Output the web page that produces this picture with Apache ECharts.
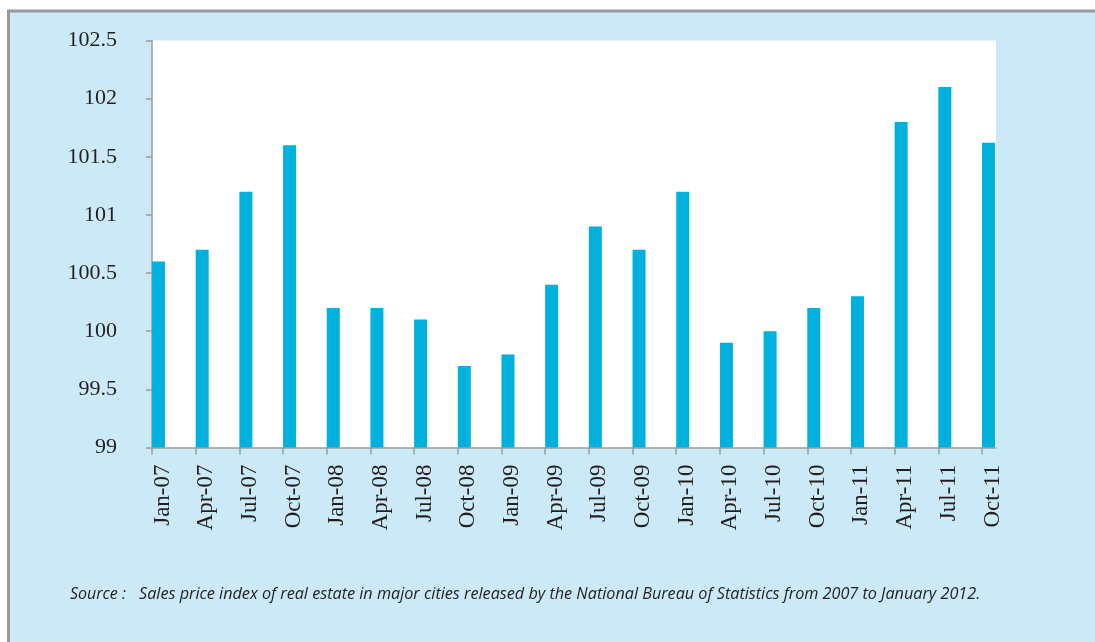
<!DOCTYPE html>
<html lang="en">
<head>
  <meta charset="UTF-8">
  <title>Sales price index</title>
  <script src="https://cdn.jsdelivr.net/npm/echarts@6/dist/echarts.min.js"></script>
  <style>
    html, body { margin: 0; padding: 0; background: #fff; }
    #myCharts { width: 1095px; height: 642px; }
  </style>
</head>
<body>
  <div id="myCharts"></div>
  <script>
    // categories and values
    var months = ['Jan-07', 'Apr-07', 'Jul-07', 'Oct-07', 'Jan-08', 'Apr-08', 'Jul-08', 'Oct-08',
      'Jan-09', 'Apr-09', 'Jul-09', 'Oct-09', 'Jan-10', 'Apr-10', 'Jul-10', 'Oct-10',
      'Jan-11', 'Apr-11', 'Jul-11', 'Oct-11'];
    var priceIndex = [100.6, 100.7, 101.2, 101.6, 100.2, 100.2, 100.1, 99.7,
      99.8, 100.4, 100.9, 100.7, 101.2, 99.9, 100.0, 100.2,
      100.3, 101.8, 102.1, 101.62];
    var yTicks = [99, 99.5, 100, 100.5, 101, 101.5, 102, 102.5];
    var sourceLabel = 'Source :';
    var sourceText = 'Sales price index of real estate in major cities released by the National Bureau of Statistics from 2007 to January 2012.';

    var idx = months.map(function (m, i) { return i; });
    // labels sit a little right of the tick, over the bar
    var labelPos = idx.map(function (i) { return i + 0.24; });
    var barData = priceIndex.map(function (v, i) { return [i, v]; });

    var myChart = echarts.init(document.getElementById('myCharts'));
    var axisGray = '#9d9d9d';
    var textColor = '#231f20';
    var serif = '"Liberation Serif", "Times New Roman", serif';

    var option = {
      animation: false,
      backgroundColor: '#fff',
      graphic: [
        {
          type: 'rect',
          z: -10,
          shape: { x: 8.5, y: 11, width: 1100, height: 640 },
          style: { fill: '#cbe9f6', stroke: '#999999', lineWidth: 3 }
        },
        {
          type: 'text',
          left: 70,
          top: 586,
          style: { text: sourceLabel, font: 'italic 16px "Open Sans"', fill: textColor }
        },
        {
          type: 'text',
          left: 139,
          top: 586,
          style: { text: sourceText, font: 'italic 16.2px "Open Sans"', fill: textColor }
        }
      ],
      grid: {
        left: 152,
        right: 99,
        top: 40.5,
        bottom: 194.5,
        show: true,
        backgroundColor: '#fff',
        borderWidth: 0
      },
      xAxis: {
        type: 'value',
        min: 0,
        max: 19.32,
        interval: 1,
        splitLine: { show: false },
        axisLine: { show: true, lineStyle: { color: axisGray, width: 1.5 } },
        axisTick: { show: true, customValues: idx, length: 7, lineStyle: { color: axisGray, width: 1.5 } },
        axisLabel: {
          customValues: labelPos,
          rotate: 90,
          margin: 17,
          fontFamily: serif,
          fontSize: 23,
          color: textColor,
          formatter: function (v) { return months[Math.round(v)] || ''; }
        }
      },
      yAxis: {
        type: 'value',
        min: yTicks[0],
        max: yTicks[yTicks.length - 1],
        interval: 0.5,
        splitLine: { show: false },
        axisLine: { show: true, lineStyle: { color: axisGray, width: 1.5 } },
        axisTick: { show: true, inside: false, length: 6, lineStyle: { color: axisGray, width: 1.5 } },
        axisLabel: {
          margin: 35,
          fontFamily: serif,
          fontSize: 22,
          color: textColor
        }
      },
      series: [
        {
          // empty spacer so the real bar sits to the right of each tick
          type: 'bar',
          data: [],
          barWidth: 13,
          barGap: '0%'
        },
        {
          type: 'bar',
          data: barData,
          barWidth: 13,
          barGap: '0%',
          itemStyle: { color: '#00b0dd' }
        }
      ]
    };
    myChart.setOption(option);
  </script>
</body>
</html>
